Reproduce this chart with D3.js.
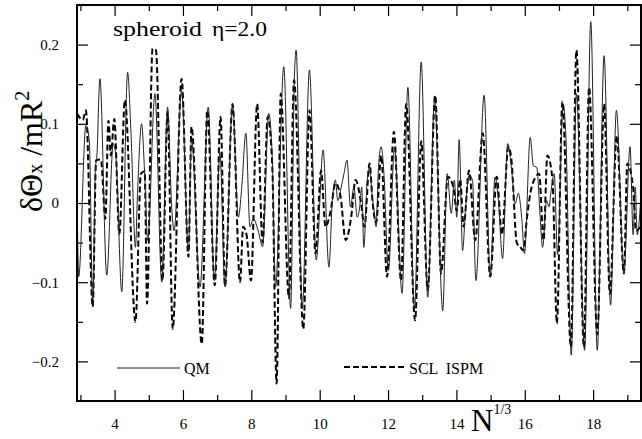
<!DOCTYPE html>
<html>
<head>
<meta charset="utf-8">
<script src="https://cdn.jsdelivr.net/npm/d3@7"></script>
<style>
  html, body { margin: 0; padding: 0; background: #fff; }
  svg { display: block; font-family: "Times New Roman", "Liberation Serif", Times, serif; }
</style>
</head>
<body>
<div id="chart"></div>
<script>
// N^(1/3) values and delta Theta_x / mR^2 for the quantum (QM) curve
const qmN = [2.90, 2.95, 3.16, 3.26, 3.36, 3.44, 3.48, 3.57, 3.77, 3.96, 4.04, 4.21, 4.38, 4.48, 4.61, 4.67, 4.79, 4.87, 4.97, 5.18,
  5.38, 5.55, 5.67, 5.74, 5.96, 6.16, 6.25, 6.50, 6.74, 6.92, 7.08, 7.23, 7.45, 7.62, 7.72, 7.84, 7.96, 8.06, 8.20, 8.33,
  8.51, 8.61, 8.71, 8.95, 9.15, 9.26, 9.31, 9.49, 9.70, 9.90, 10.10, 10.27, 10.37, 10.46, 10.53, 10.63, 10.71, 10.80, 10.90, 11.00,
  11.10, 11.17, 11.23, 11.29, 11.39, 11.46, 11.53, 11.60, 11.65, 11.72, 11.80, 11.88, 12.01, 12.19, 12.41, 12.58, 12.77, 12.97, 13.16, 13.36,
  13.60, 13.73, 13.85, 13.94, 14.01, 14.08, 14.18, 14.27, 14.37, 14.47, 14.57, 14.81, 14.99, 15.13, 15.23, 15.35, 15.50, 15.62, 15.72, 15.81,
  15.91, 15.99, 16.16, 16.25, 16.35, 16.45, 16.52, 16.64, 16.71, 16.76, 16.86, 16.96, 17.12, 17.20, 17.36, 17.51, 17.75, 17.93, 18.12, 18.32,
  18.51, 18.68, 18.90, 19.08, 19.17, 19.23, 19.29, 19.39]
const qmDelta = [0.020, -0.093, 0.098, 0.079, -0.131, 0.045, 0.058, 0.157, -0.091, 0.075, 0.058, -0.112, 0.165, 0.088, -0.056, 0.012, 0.100, 0.046, -0.047, 0.138,
  -0.100, 0.121, -0.005, -0.035, 0.142, -0.060, 0.080, -0.106, 0.121, -0.098, 0.064, -0.106, 0.125, -0.018, 0.020, 0.088, -0.030, -0.020, -0.035, -0.055,
  0.113, 0.059, -0.106, 0.172, -0.133, 0.159, 0.193, -0.133, 0.168, -0.072, 0.067, -0.081, 0.003, 0.029, 0.003, 0.020, 0.037, 0.054, -0.005, 0.020,
  -0.018, -0.005, 0.020, -0.056, 0.029, 0.045, 0.012, -0.013, -0.030, 0.045, 0.071, 0.037, -0.085, 0.070, -0.114, 0.146, -0.135, 0.178, -0.119, 0.130,
  -0.136, 0.037, -0.013, 0.029, -0.018, 0.080, -0.060, -0.005, 0.035, 0.029, -0.098, 0.136, -0.093, 0.033, 0.003, -0.070, 0.075, 0.040, -0.001, 0.012,
  -0.018, -0.064, 0.083, 0.047, 0.045, -0.018, -0.056, 0.003, -0.005, 0.012, 0.037, -0.065, 0.125, 0.087, -0.192, 0.138, -0.186, 0.229, -0.186, 0.186,
  -0.129, 0.117, -0.089, 0.071, -0.040, 0.020, -0.040, 0.003]

// semiclassical ISPM curve
const sclN = [2.90, 3.07, 3.16, 3.36, 3.46, 3.60, 3.73, 3.82, 3.89, 3.99, 4.14, 4.30, 4.61, 4.77, 4.88, 4.95, 5.11, 5.21, 5.40, 5.55,
  5.70, 5.96, 6.16, 6.25, 6.55, 6.71, 6.93, 7.10, 7.23, 7.45, 7.67, 7.76, 7.86, 7.99, 8.17, 8.33, 8.48, 8.61, 8.74, 8.86,
  9.10, 9.25, 9.52, 9.70, 9.88, 10.04, 10.17, 10.32, 10.46, 10.61, 10.76, 10.92, 11.05, 11.21, 11.31, 11.46, 11.55, 11.65, 11.80, 11.97,
  12.17, 12.38, 12.53, 12.79, 12.97, 13.16, 13.38, 13.55, 13.75, 13.91, 14.01, 14.11, 14.21, 14.37, 14.55, 14.77, 14.99, 15.18, 15.33, 15.52,
  15.60, 15.77, 15.86, 15.96, 16.06, 16.20, 16.42, 16.55, 16.66, 16.81, 16.94, 17.10, 17.35, 17.51, 17.73, 17.88, 18.12, 18.32, 18.49, 18.69,
  18.90, 19.00, 19.17, 19.25, 19.39]
const sclDelta = [0.113, 0.105, 0.117, -0.131, 0.054, 0.055, -0.020, 0.104, 0.060, 0.106, -0.039, 0.130, -0.150, 0.037, 0.040, -0.127, 0.195, 0.193, -0.098, 0.115,
  -0.159, 0.157, -0.068, 0.096, -0.178, 0.117, -0.104, 0.109, -0.105, 0.125, -0.100, -0.030, -0.040, -0.098, 0.125, -0.050, 0.109, 0.050, -0.228, 0.138,
  -0.120, 0.155, -0.159, 0.117, -0.064, 0.041, -0.030, -0.010, 0.025, 0.008, -0.047, -0.018, 0.029, 0.000, -0.030, 0.050, 0.000, -0.025, 0.060, -0.093,
  0.090, -0.098, 0.125, -0.148, 0.078, -0.110, 0.136, -0.089, 0.033, 0.020, -0.010, 0.030, -0.030, 0.041, -0.047, 0.088, -0.093, 0.033, -0.040, 0.071,
  0.058, -0.051, -0.055, -0.060, -0.020, 0.020, 0.037, -0.047, 0.060, 0.030, -0.152, 0.128, -0.182, 0.193, -0.182, 0.146, -0.166, 0.125, -0.115, 0.085,
  -0.089, 0.050, 0.020, -0.035, -0.030]

const xMajor = [4, 6, 8, 10, 12, 14, 16, 18]
const xMinor = [3, 5, 7, 9, 11, 13, 15, 17, 19]
const yMajor = [-0.2, -0.1, 0, 0.1, 0.2]
const yMinor = [-0.15, -0.05, 0.05, 0.15]

const FONT = '"Times New Roman", "Liberation Serif", Times, serif'
const width = 642
const height = 439
const plotLeft = 77, plotRight = 641, plotTop = 5, plotBottom = 401

const x = d3.scaleLinear().domain([2.9, 19.4]).range([plotLeft, plotRight])
const y = d3.scaleLinear().domain([-0.25, 0.25]).range([plotBottom, plotTop])

const svg = d3.select('#chart').append('svg')
  .attr('width', width)
  .attr('height', height)
  .attr('font-family', FONT)

svg.append('rect').attr('width', width).attr('height', height).attr('fill', '#fff')

svg.append('clipPath').attr('id', 'plot-clip')
  .append('rect')
  .attr('x', plotLeft).attr('y', plotTop)
  .attr('width', plotRight - plotLeft).attr('height', plotBottom - plotTop)

const fmtY = d => d === 0 ? '0' : d3.format('.1f')(d)

// axes, ticks pointing inwards on all four sides
const styleAxis = g => {
  g.attr('font-family', FONT)
  g.select('.domain').remove()
  g.selectAll('line').attr('stroke', '#000').attr('stroke-width', 1.2)
  g.selectAll('text').attr('font-size', 15).attr('fill', '#000')
}

svg.append('g').attr('transform', `translate(0,${plotBottom})`)
  .call(d3.axisBottom(x).tickValues(xMajor).tickSize(-11).tickPadding(17).tickFormat(d3.format('d')))
  .call(styleAxis)
svg.append('g').attr('transform', `translate(0,${plotBottom})`)
  .call(d3.axisBottom(x).tickValues(xMinor).tickSize(-6).tickFormat(''))
  .call(styleAxis)
svg.append('g').attr('transform', `translate(0,${plotTop})`)
  .call(d3.axisTop(x).tickValues(xMajor).tickSize(-11).tickFormat(''))
  .call(styleAxis)
svg.append('g').attr('transform', `translate(0,${plotTop})`)
  .call(d3.axisTop(x).tickValues(xMinor).tickSize(-6).tickFormat(''))
  .call(styleAxis)

svg.append('g').attr('transform', `translate(${plotLeft},0)`)
  .call(d3.axisLeft(y).tickValues(yMajor).tickSize(-11).tickPadding(18).tickFormat(fmtY))
  .call(styleAxis)
svg.append('g').attr('transform', `translate(${plotLeft},0)`)
  .call(d3.axisLeft(y).tickValues(yMinor).tickSize(-6).tickFormat(''))
  .call(styleAxis)
svg.append('g').attr('transform', `translate(${plotRight},0)`)
  .call(d3.axisRight(y).tickValues(yMajor).tickSize(-11).tickFormat(''))
  .call(styleAxis)
svg.append('g').attr('transform', `translate(${plotRight},0)`)
  .call(d3.axisRight(y).tickValues(yMinor).tickSize(-6).tickFormat(''))
  .call(styleAxis)

const line = d3.line()
  .x(d => x(d[0]))
  .y(d => y(d[1]))
  .curve(d3.curveMonotoneX)

const plot = svg.append('g').attr('clip-path', 'url(#plot-clip)')

plot.append('path')
  .datum(sclN.map((n, i) => [n, sclDelta[i]]))
  .attr('d', line)
  .attr('fill', 'none')
  .attr('stroke', '#000')
  .attr('stroke-width', 2)
  .attr('stroke-dasharray', '6,3')

plot.append('path')
  .datum(qmN.map((n, i) => [n, qmDelta[i]]))
  .attr('d', line)
  .attr('fill', 'none')
  .attr('stroke', '#222')
  .attr('stroke-width', 1)

// frame
svg.append('rect')
  .attr('x', plotLeft).attr('y', plotTop)
  .attr('width', plotRight - plotLeft).attr('height', plotBottom - plotTop)
  .attr('fill', 'none').attr('stroke', '#000').attr('stroke-width', 2)

// legend
svg.append('line').attr('x1', 117).attr('x2', 180).attr('y1', 368).attr('y2', 368)
  .attr('stroke', '#222').attr('stroke-width', 1)
svg.append('text').attr('x', 184).attr('y', 374).attr('font-size', 16).text('QM')

svg.append('line').attr('x1', 344).attr('x2', 405).attr('y1', 367).attr('y2', 367)
  .attr('stroke', '#000').attr('stroke-width', 2).attr('stroke-dasharray', '6,3')
svg.append('text').attr('x', 409).attr('y', 374).attr('font-size', 16)
  .attr('xml:space', 'preserve').text('SCL  ISPM')

// annotation
svg.append('text').attr('x', 113).attr('y', 36).attr('font-size', 20)
  .attr('textLength', 89).attr('lengthAdjust', 'spacingAndGlyphs').text('spheroid')
svg.append('text').attr('x', 212).attr('y', 36).attr('font-size', 20)
  .attr('textLength', 55).attr('lengthAdjust', 'spacingAndGlyphs').text('η=2.0')

// axis titles
const yTitle = svg.append('text')
  .attr('transform', 'translate(42,212) rotate(-90)')
  .attr('font-size', 32)
yTitle.append('tspan').text('δΘ')
yTitle.append('tspan').attr('font-size', 20).text('x')
yTitle.append('tspan').text(' /mR')
yTitle.append('tspan').attr('font-size', 20).attr('dy', -13).text('2')

const xTitle = svg.append('text').attr('x', 471).attr('y', 431).attr('font-size', 31)
xTitle.append('tspan').text('N')
xTitle.append('tspan').attr('font-size', 14).attr('dy', -17).text('1/3')
</script>
</body>
</html>
